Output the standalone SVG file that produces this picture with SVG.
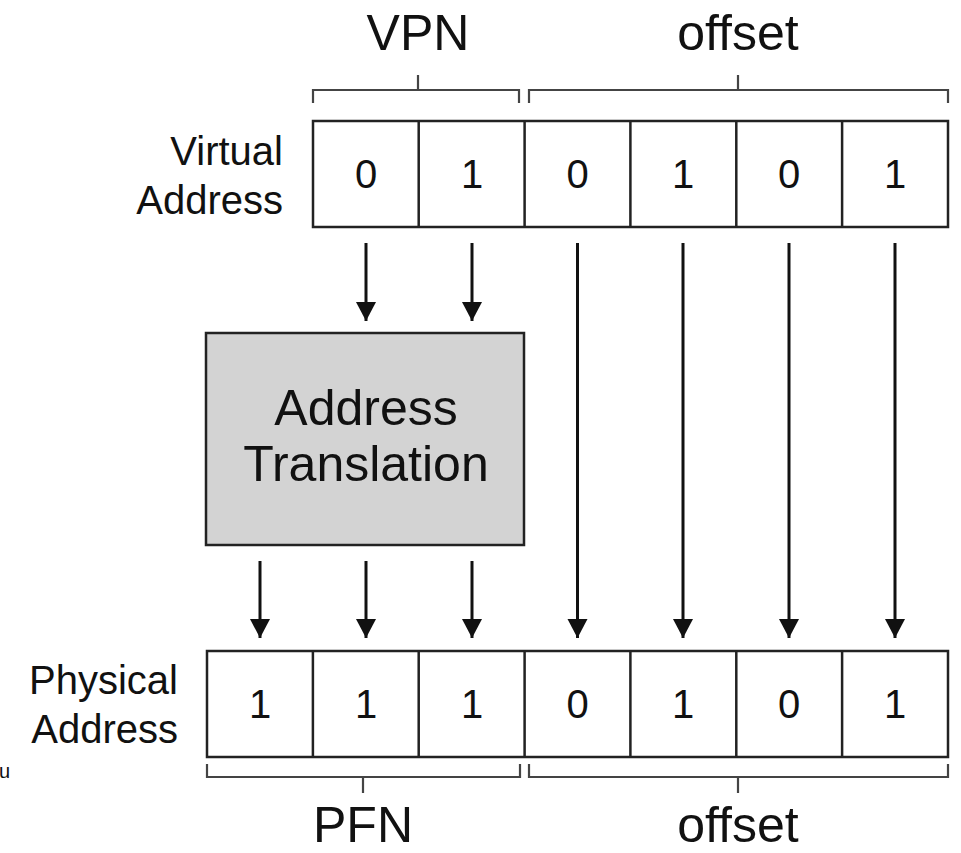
<svg xmlns="http://www.w3.org/2000/svg" width="961" height="853" viewBox="0 0 961 853">
<defs>
<marker id="ah" markerUnits="userSpaceOnUse" markerWidth="20" markerHeight="26" refX="19" refY="10" orient="auto">
<path d="M0,0 L19,10 L0,20 Z" fill="#111"/>
</marker>
</defs>
<style>
.t{font-family:"Liberation Sans",Arial,sans-serif;fill:#111}
.big{font-size:50px;text-anchor:middle}
.lbl{font-size:40px;text-anchor:end}
.bit{font-size:40px;text-anchor:middle}
.cell{fill:#fff;stroke:#222;stroke-width:2.5}
.br{fill:none;stroke:#444;stroke-width:2.2}
.ar{stroke:#111;stroke-width:3;fill:none;marker-end:url(#ah)}
</style>
<rect width="961" height="853" fill="#fff"/>

<g id="labels-top">
<text class="t big" x="418" y="50">VPN</text>
<text class="t big" x="738" y="50">offset</text>
<path class="br" d="M313,103 V90 H519 V103 M418,90 V75"/>
<path class="br" d="M529,103 V90 H948 V103 M738,90 V75"/>
</g>

<g id="virtual-address">
<text class="t lbl" x="283" y="165">Virtual</text>
<text class="t lbl" x="283" y="214">Address</text>
<rect class="cell" x="313" y="121" width="635" height="106"/>
<path class="cell" d="M418.7,121 V227 M524.6,121 V227 M630.4,121 V227 M736.3,121 V227 M842.1,121 V227"/>
<text class="t bit" x="366" y="188">0</text>
<text class="t bit" x="472" y="188">1</text>
<text class="t bit" x="577.5" y="188">0</text>
<text class="t bit" x="683" y="188">1</text>
<text class="t bit" x="789" y="188">0</text>
<text class="t bit" x="895" y="188">1</text>
</g>

<g id="address-translation">
<rect x="206" y="333" width="318" height="212" fill="#d3d3d3" stroke="#222" stroke-width="2.5"/>
<text class="t big" x="366" y="425">Address</text>
<text class="t big" x="366" y="481">Translation</text>
</g>

<g id="physical-address">
<text class="t lbl" x="178" y="694">Physical</text>
<text class="t lbl" x="178" y="743">Address</text>
<rect class="cell" x="207" y="651" width="741" height="106"/>
<path class="cell" d="M312.9,651 V757 M418.7,651 V757 M524.6,651 V757 M630.4,651 V757 M736.3,651 V757 M842.1,651 V757"/>
<text class="t bit" x="260" y="718">1</text>
<text class="t bit" x="366" y="718">1</text>
<text class="t bit" x="472" y="718">1</text>
<text class="t bit" x="577.5" y="718">0</text>
<text class="t bit" x="683" y="718">1</text>
<text class="t bit" x="789" y="718">0</text>
<text class="t bit" x="895" y="718">1</text>
</g>

<g id="labels-bottom">
<path class="br" d="M207,764 V777 H520 V764 M363,777 V793"/>
<path class="br" d="M529,764 V777 H948 V764 M738,777 V793"/>
<text class="t big" x="363" y="842">PFN</text>
<text class="t big" x="738" y="842">offset</text>
<text class="t" x="-1" y="778" style="font-size:20px">u</text>
</g>

<g id="connectors">
<line class="ar" x1="366" y1="243" x2="366" y2="321"/>
<line class="ar" x1="472" y1="243" x2="472" y2="321"/>
<line class="ar" x1="577.5" y1="243" x2="577.5" y2="638"/>
<line class="ar" x1="683" y1="243" x2="683" y2="638"/>
<line class="ar" x1="789" y1="243" x2="789" y2="638"/>
<line class="ar" x1="895" y1="243" x2="895" y2="638"/>
<line class="ar" x1="260" y1="561" x2="260" y2="638"/>
<line class="ar" x1="366" y1="561" x2="366" y2="638"/>
<line class="ar" x1="472" y1="561" x2="472" y2="638"/>
</g>
</svg>
